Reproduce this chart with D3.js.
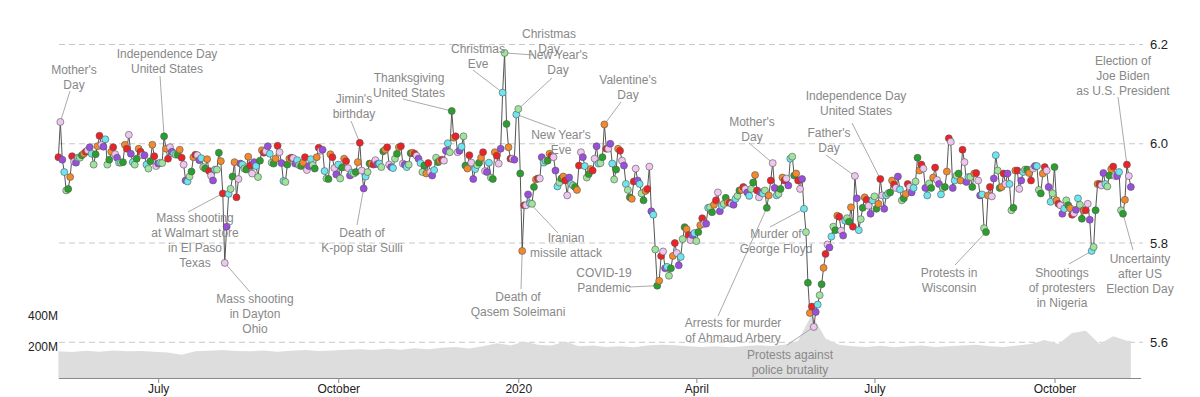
<!DOCTYPE html>
<html>
<head>
<meta charset="utf-8">
<script src="https://cdn.jsdelivr.net/npm/d3@7"></script>
<style>
  html, body { margin: 0; padding: 0; background: #fff; }
  svg { display: block; font-family: "Liberation Sans", Arial, sans-serif; }
</style>
</head>
<body>
<svg id="chart" width="1200" height="397"></svg>
<script>
'use strict';

// first day of the daily series (a Saturday)
var startDay = '2019-05-11';

// average daily happiness, one row per week (Sat .. Fri)
var happiness = [
  5.973, 6.044, 5.968, 5.943, 5.906, 5.909, 5.933,
  5.975, 5.964, 5.962, 5.972, 5.972, 5.977, 5.980,
  5.984, 5.987, 5.993, 5.980, 5.958, 5.979, 5.995,
  6.016, 5.998, 5.994, 6.009, 5.958, 5.968, 5.984,
  5.993, 5.979, 5.972, 5.962, 5.962, 5.963, 5.998,
  5.990, 6.018, 5.980, 5.963, 5.958, 5.970, 5.990,
  5.984, 5.977, 5.977, 5.958, 5.950, 5.965, 5.998,
  5.975, 5.955, 5.960, 5.962, 5.961, 6.015, 5.990,
  5.970, 5.993, 5.984, 5.980, 5.978, 5.978, 5.988,
  5.972, 5.958, 5.926, 5.924, 5.934, 5.944, 5.973,
  5.978, 5.977, 5.967, 5.971, 5.953, 5.950, 5.969,
  5.945, 5.936, 5.926, 5.948, 5.948, 5.982, 5.965,
  5.900, 5.760, 5.833, 5.899, 5.909, 5.934, 5.963,
  5.892, 5.929, 5.960, 5.958, 5.950, 5.948, 5.974,
  5.956, 5.940, 5.963, 5.955, 5.933, 5.966, 5.987,
  5.982, 5.985, 5.995, 5.980, 5.962, 5.960, 5.970,
  5.996, 5.983, 5.961, 5.925, 5.923, 5.958, 5.970,
  5.972, 5.971, 5.960, 5.967, 5.957, 5.955, 5.962,
  5.973, 5.947, 5.955, 5.969, 5.957, 5.950, 5.973,
  5.992, 5.986, 5.988, 5.945, 5.930, 5.929, 5.979,
  5.973, 5.951, 5.938, 5.958, 5.930, 5.952, 5.970,
  5.965, 5.951, 5.936, 5.942, 5.940, 5.943, 5.963,
  6.002, 5.946, 5.910, 5.934, 5.943, 5.960, 5.960,
  5.958, 5.967, 5.959, 5.960, 5.953, 5.985, 5.988,
  5.993, 5.958, 5.953, 5.951, 5.970, 5.980, 5.993,
  5.995, 5.960, 5.958, 5.953, 5.958, 5.981, 5.982,
  5.980, 5.976, 5.970, 5.961, 5.943, 5.956, 5.940,
  5.961, 5.943, 5.936, 5.947, 5.972, 5.963, 5.966,
  5.968, 5.966, 5.986, 6.001, 5.983, 6.066, 6.012,
  6.015, 5.983, 5.986, 5.994, 6.015, 5.956, 5.950,
  5.977, 5.962, 5.929, 5.949, 5.957, 5.962, 5.972,
  5.983, 5.945, 5.943, 5.962, 5.932, 5.929, 5.983,
  5.976, 5.960, 5.990, 6.103, 6.183, 6.040, 5.993,
  5.970, 5.970, 5.968, 6.059, 6.070, 5.940, 5.784,
  5.876, 5.876, 5.898, 5.880, 5.879, 5.913, 5.928,
  5.930, 5.930, 5.973, 5.962, 5.966, 5.966, 5.980,
  5.976, 5.973, 5.946, 5.914, 5.922, 5.930, 5.934,
  5.926, 5.896, 5.932, 5.919, 5.916, 5.913, 5.907,
  5.956, 5.983, 5.973, 5.955, 5.932, 5.939, 5.949,
  5.946, 5.970, 5.995, 5.960, 5.961, 5.973, 6.039,
  5.990, 5.990, 6.000, 5.960, 5.928, 5.948, 5.990,
  5.986, 5.966, 5.956, 5.919, 5.907, 5.892, 5.889,
  5.924, 5.950, 5.926, 5.919, 5.900, 5.886, 5.905,
  5.909, 5.954, 5.864, 5.857, 5.787, 5.714, 5.724,
  5.774, 5.783, 5.749, 5.752, 5.734, 5.749, 5.774,
  5.800, 5.780, 5.755, 5.772, 5.808, 5.832, 5.828,
  5.816, 5.806, 5.816, 5.820, 5.804, 5.822, 5.836,
  5.850, 5.839, 5.839, 5.871, 5.872, 5.862, 5.877,
  5.886, 5.902, 5.864, 5.875, 5.879, 5.891, 5.882,
  5.881, 5.879, 5.877, 5.889, 5.895, 5.906, 5.907,
  5.913, 5.909, 5.902, 5.895, 5.909, 5.922, 5.937,
  5.906, 5.892, 5.902, 5.900, 5.906, 5.871, 5.896,
  5.926, 5.961, 5.911, 5.896, 5.899, 5.909, 5.932,
  5.926, 5.930, 5.916, 5.970, 5.974, 5.936, 5.940,
  5.926, 5.909, 5.929, 5.869, 5.822, 5.720, 5.659,
  5.672, 5.631, 5.661, 5.676, 5.695, 5.717, 5.750,
  5.778, 5.797, 5.791, 5.813, 5.833, 5.826, 5.855,
  5.853, 5.825, 5.815, 5.845, 5.850, 5.843, 5.872,
  5.833, 5.935, 5.890, 5.826, 5.848, 5.871, 5.892,
  5.887, 5.875, 5.859, 5.886, 5.894, 5.869, 5.879,
  5.929, 5.896, 5.869, 5.896, 5.900, 5.902, 5.926,
  5.918, 5.911, 5.934, 5.908, 5.886, 5.890, 5.899,
  5.919, 5.913, 5.902, 5.911, 5.924, 5.972, 5.946,
  5.958, 5.950, 5.911, 5.896, 5.920, 5.911, 5.932,
  5.952, 5.927, 5.919, 5.898, 5.911, 5.913, 5.944,
  6.011, 6.004, 5.911, 5.926, 5.936, 5.940, 5.926,
  5.988, 5.963, 5.923, 5.933, 5.933, 5.913, 5.940,
  5.941, 5.926, 5.896, 5.898, 5.830, 5.822, 5.896,
  5.913, 5.894, 5.930, 5.977, 5.946, 5.911, 5.913,
  5.940, 5.919, 5.940, 5.919, 5.866, 5.871, 5.946,
  5.946, 5.909, 5.926, 5.943, 5.948, 5.948, 5.941,
  5.926, 5.950, 5.955, 5.955, 5.907, 5.900, 5.940,
  5.953, 5.946, 5.913, 5.883, 5.900, 5.953, 5.886,
  5.879, 5.876, 5.859, 5.869, 5.886, 5.876, 5.870,
  5.857, 5.860, 5.867, 5.890, 5.877, 5.849, 5.866,
  5.866, 5.879, 5.847, 5.784, 5.792, 5.866, 5.919,
  5.919, 5.916, 5.941, 5.919, 5.914, 5.936, 5.949,
  5.954, 5.935, 5.935, 5.943, 5.866, 5.859, 5.887,
  5.958, 5.935, 5.913
];

// tweet volume in millions, one value per week (starting on startDay)
var volume = [
  172, 168, 176, 170, 178, 172, 175, 170,
  165, 150, 172, 176, 180,
  175, 172, 178, 170, 176, 180, 174, 178,
  182, 186, 180, 188, 182, 192, 185,
  195, 200, 190, 205, 225, 210,
  235, 215, 210, 236, 205, 210, 200,
  205, 198, 210, 215, 212, 205,
  200, 205, 198, 205, 212, 206, 215,
  240, 410, 255, 215,
  205, 200, 208, 198, 205, 210, 200, 205,
  210, 215, 205, 200, 210, 220, 245,
  220, 290, 305, 220, 270, 240
];

var monthTicks = ['2019-07-01', '2019-10-01', '2020-01-01', '2020-04-01', '2020-07-01', '2020-10-01'];
var monthLabels = ['July', 'October', '2020', 'April', 'July', 'October'];
var scoreTicks = [5.6, 5.8, 6.0, 6.2];
var volumeTicks = [200, 400];

// Sun .. Sat
var dayColors = ['#eec6f0', '#9a4ee0', '#6fe5ef', '#9fe39f', '#2b9f2d', '#f28a2d', '#ec2226'];

// events: label centre (tx, ty of first line) and start of the leader line
var events = [
  {date: '2019-05-12', text: ["Mother's", 'Day'], tx: 74, ty: 70, lx: 70, ly: 91},
  {date: '2019-07-04', text: ['Independence Day', 'United States'], tx: 167, ty: 54, lx: 160, ly: 76},
  {date: '2019-08-03', text: ['Mass shooting', 'at Walmart store', 'in El Paso', 'Texas'], tx: 195, ty: 218, lx: 188, ly: 212},
  {date: '2019-08-04', text: ['Mass shooting', 'in Dayton', 'Ohio'], tx: 255, ty: 299, lx: 250, ly: 292},
  {date: '2019-10-12', text: ["Jimin's", 'birthday'], tx: 354, ty: 99, lx: 351, ly: 121},
  {date: '2019-10-14', text: ['Death of', 'K-pop star Sulli'], tx: 362, ty: 233, lx: 357, ly: 225},
  {date: '2019-11-28', text: ['Thanksgiving', 'United States'], tx: 409, ty: 78, lx: 403, ly: 99},
  {date: '2019-12-24', text: ['Christmas', 'Eve'], tx: 478, ty: 49, lx: 473, ly: 70},
  {date: '2019-12-25', text: ['Christmas', 'Day'], tx: 549, ty: 34, lx: 534, ly: 55},
  {date: '2020-01-01', text: ["New Year's", 'Day'], tx: 558, ty: 55, lx: 552, ly: 78},
  {date: '2019-12-31', text: ["New Year's", 'Eve'], tx: 561, ty: 135, lx: 556, ly: 129},
  {date: '2020-01-03', text: ['Death of', 'Qasem Soleimani'], tx: 518, ty: 297, lx: 521, ly: 289},
  {date: '2020-01-07', text: ['Iranian', 'missile attack'], tx: 566, ty: 238, lx: 558, ly: 233},
  {date: '2020-02-14', text: ["Valentine's", 'Day'], tx: 628, ty: 80, lx: 621, ly: 102},
  {date: '2020-03-12', text: ['COVID-19', 'Pandemic'], tx: 604, ty: 273, lx: 629, ly: 287},
  {date: '2020-05-10', text: ["Mother's", 'Day'], tx: 752, ty: 122, lx: 749, ly: 143},
  {date: '2020-05-26', text: ['Murder of', 'George Floyd'], tx: 776, ty: 234, lx: 770, ly: 227},
  {date: '2020-05-07', text: ['Arrests for murder', 'of Ahmaud Arbery'], tx: 733, ty: 323, lx: 718, ly: 316},
  {date: '2020-05-31', text: ['Protests against', 'police brutality'], tx: 790, ty: 355, lx: 787, ly: 345},
  {date: '2020-06-21', text: ["Father's", 'Day'], tx: 829, ty: 133, lx: 826, ly: 155},
  {date: '2020-07-04', text: ['Independence Day', 'United States'], tx: 856, ty: 96, lx: 852, ly: 123},
  {date: '2020-08-27', text: ['Protests in', 'Wisconsin'], tx: 949, ty: 273, lx: 955, ly: 265},
  {date: '2020-10-20', text: ['Shootings', 'of protesters', 'in Nigeria'], tx: 1062, ty: 273, lx: 1069, ly: 264},
  {date: '2020-11-07', text: ['Election of', 'Joe Biden', 'as U.S. President'], tx: 1123, ty: 61, lx: 1118, ly: 97},
  {date: '2020-11-05', text: ['Uncertainty', 'after US', 'Election Day'], tx: 1140, ty: 259, lx: 1133, ly: 250}
];

var parseDay = d3.utcParse('%Y-%m-%d');
var start = parseDay(startDay);

var days = happiness.map(function(v, i) {
  return {date: d3.utcDay.offset(start, i), value: v};
});
var weeks = volume.map(function(v, i) {
  return {date: d3.utcDay.offset(start, i * 7), value: v};
});
// close the area at the last day of the series
weeks.push({date: days[days.length - 1].date, value: volume[volume.length - 1]});

var byDay = {};
days.forEach(function(d) { byDay[+d.date] = d; });

var x = d3.scaleUtc()
  .domain([start, parseDay('2020-11-14')])
  .range([58.4, 1140.6]);
var y = d3.scaleLinear().domain([5.6, 6.2]).range([342.3, 44.5]);
var yVol = d3.scaleLinear().domain([0, 400]).range([378, 316]);

var svg = d3.select('#chart');

// dashed grid lines for the happiness scale
svg.append('g').selectAll('line')
  .data(scoreTicks)
  .enter().append('line')
  .attr('x1', 59).attr('x2', 1143)
  .attr('y1', function(d) { return y(d); })
  .attr('y2', function(d) { return y(d); })
  .attr('stroke', '#c8c8c8')
  .attr('stroke-width', 1)
  .attr('stroke-dasharray', '6,4');

// tweet volume area
var area = d3.area()
  .x(function(d) { return x(d.date); })
  .y0(yVol(0))
  .y1(function(d) { return yVol(d.value); });
svg.append('path')
  .datum(weeks)
  .attr('d', area)
  .attr('fill', '#dddddd');

// bottom time axis
var xAxis = d3.axisBottom(x)
  .tickValues(monthTicks.map(parseDay))
  .tickFormat(function(d, i) { return monthLabels[i]; })
  .tickSize(5)
  .tickSizeOuter(0);
var gx = svg.append('g')
  .attr('transform', 'translate(0,' + yVol(0) + ')')
  .call(xAxis);
gx.select('.domain').attr('stroke', '#888');
gx.selectAll('.tick line').attr('stroke', '#888');
gx.selectAll('.tick text')
  .attr('font-family', '"Liberation Sans", Arial, sans-serif')
  .attr('font-size', 12)
  .attr('fill', '#222')
  .attr('y', 6)
  .attr('dy', '0.71em');

// right axis: happiness score
var gy = svg.append('g')
  .attr('transform', 'translate(1150,0)')
  .call(d3.axisRight(y).tickValues(scoreTicks).tickFormat(d3.format('.1f')).tickSize(0));
gy.select('.domain').remove();
gy.selectAll('text')
  .attr('x', 0)
  .attr('font-family', '"Liberation Sans", Arial, sans-serif')
  .attr('font-size', 13)
  .attr('fill', '#222');

// left axis: tweet volume
var gv = svg.append('g')
  .attr('transform', 'translate(58,0)')
  .call(d3.axisLeft(yVol).tickValues(volumeTicks).tickFormat(function(d) { return d + 'M'; }).tickSize(0));
gv.select('.domain').remove();
gv.selectAll('text')
  .attr('x', 0)
  .attr('font-family', '"Liberation Sans", Arial, sans-serif')
  .attr('font-size', 12)
  .attr('fill', '#222');

// leader lines to the annotated days
svg.append('g').selectAll('line')
  .data(events)
  .enter().append('line')
  .attr('x1', function(d) { return d.lx; })
  .attr('y1', function(d) { return d.ly; })
  .attr('x2', function(d) { return x(parseDay(d.date)); })
  .attr('y2', function(d) { return y(byDay[+parseDay(d.date)].value); })
  .attr('stroke', '#aaa')
  .attr('stroke-width', 1);

// daily line
var line = d3.line()
  .x(function(d) { return x(d.date); })
  .y(function(d) { return y(d.value); });
svg.append('path')
  .datum(days)
  .attr('d', line)
  .attr('fill', 'none')
  .attr('stroke', '#555')
  .attr('stroke-width', 1);

// day markers, coloured by weekday
svg.append('g').selectAll('circle')
  .data(days)
  .enter().append('circle')
  .attr('cx', function(d) { return x(d.date); })
  .attr('cy', function(d) { return y(d.value); })
  .attr('r', 3.5)
  .attr('fill', function(d) { return dayColors[d.date.getUTCDay()]; })
  .attr('stroke', '#555')
  .attr('stroke-width', 0.6);

// annotation labels
var labels = svg.append('g')
  .attr('font-size', 12)
  .attr('fill', '#888')
  .attr('text-anchor', 'middle');
events.forEach(function(e) {
  var t = labels.append('text');
  e.text.forEach(function(s, i) {
    t.append('tspan')
      .attr('x', e.tx)
      .attr('y', e.ty + i * 15 + 4)
      .text(s);
  });
});
</script>
</body>
</html>
